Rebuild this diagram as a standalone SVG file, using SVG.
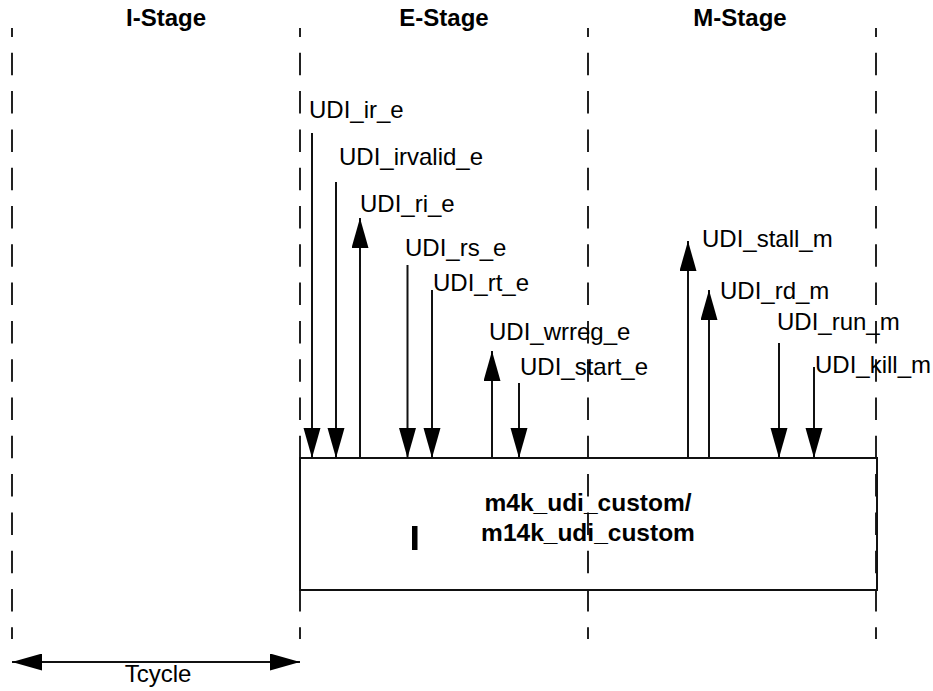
<svg xmlns="http://www.w3.org/2000/svg" width="933" height="691" viewBox="0 0 933 691">
<style>
.lbl{font-family:"Liberation Sans",Arial,sans-serif;font-size:24px;fill:#000}
.ttl{font-family:"Liberation Sans",Arial,sans-serif;font-size:24px;font-weight:bold;fill:#000}
.big{font-family:"Liberation Sans",Arial,sans-serif;font-size:24.5px;font-weight:bold;fill:#000}
.dash{stroke:#222;stroke-width:2;fill:none;stroke-dasharray:22.5 15.8;stroke-dashoffset:13.5}
.sig{stroke:#111;stroke-width:2;fill:none;marker-end:url(#ah)}
.box{stroke:#111;stroke-width:2;fill:none}
</style>
<defs>
<marker id="ah" markerUnits="userSpaceOnUse" markerWidth="30" markerHeight="18" refX="30" refY="8.5" orient="auto">
<path d="M0,0 L30,8.5 L0,17 z" fill="#000"/>
</marker>
<marker id="ahs" markerUnits="userSpaceOnUse" markerWidth="30" markerHeight="18" refX="0" refY="8.5" orient="auto">
<path d="M30,0 L0,8.5 L30,17 z" fill="#000"/>
</marker>
</defs>
<rect width="933" height="691" fill="#fff"/>
<g id="stage-lines">
<line class="dash" x1="12" y1="28" x2="12" y2="639"/>
<line class="dash" x1="300" y1="28" x2="300" y2="639"/>
<line class="dash" x1="588" y1="28" x2="588" y2="639"/>
<line class="dash" x1="876" y1="28" x2="876" y2="639"/>
</g>
<g id="i-stage"><text class="ttl" x="166" y="26" text-anchor="middle">I-Stage</text></g>
<g id="e-stage"><text class="ttl" x="444" y="26" text-anchor="middle">E-Stage</text></g>
<g id="m-stage"><text class="ttl" x="740" y="26" text-anchor="middle">M-Stage</text></g>
<g id="custom">
<rect class="box" x="300" y="458" width="577" height="132"/>
<text class="big" x="588" y="511" text-anchor="middle">m4k_udi_custom/</text>
<text class="big" x="588" y="541" text-anchor="middle">m14k_udi_custom</text>
<rect x="412" y="526" width="5.5" height="24" fill="#000"/>
</g>
<g id="sig-ir"><text class="lbl" x="309" y="118">UDI_ir_e</text></g>
<g id="sig-irvalid"><text class="lbl" x="339" y="165">UDI_irvalid_e</text></g>
<g id="sig-ri"><text class="lbl" x="360" y="212">UDI_ri_e</text></g>
<g id="sig-rs"><text class="lbl" x="405" y="256">UDI_rs_e</text></g>
<g id="sig-rt"><text class="lbl" x="433" y="291">UDI_rt_e</text></g>
<g id="sig-wrreg"><text class="lbl" x="489" y="340">UDI_wrreg_e</text></g>
<g id="sig-start"><text class="lbl" x="520" y="375">UDI_start_e</text></g>
<g id="sig-stall"><text class="lbl" x="702" y="247">UDI_stall_m</text></g>
<g id="sig-rd"><text class="lbl" x="720" y="299">UDI_rd_m</text></g>
<g id="sig-run"><text class="lbl" x="777" y="330">UDI_run_m</text></g>
<g id="sig-kill"><text class="lbl" x="815" y="373">UDI_kill_m</text></g>
<g id="tcycle"><text class="lbl" x="158" y="682" text-anchor="middle">Tcycle</text></g>
<g id="connectors">
<line class="sig" x1="312" y1="133" x2="312" y2="458"/>
<line class="sig" x1="336" y1="182" x2="336" y2="458"/>
<line class="sig" x1="360" y1="458" x2="360" y2="218"/>
<line class="sig" x1="407.5" y1="265" x2="407.5" y2="458"/>
<line class="sig" x1="432" y1="290" x2="432" y2="458"/>
<line class="sig" x1="492" y1="458" x2="492" y2="351"/>
<line class="sig" x1="519" y1="383" x2="519" y2="458"/>
<line class="sig" x1="688" y1="458" x2="688" y2="241"/>
<line class="sig" x1="709" y1="458" x2="709" y2="290"/>
<line class="sig" x1="779" y1="343" x2="779" y2="458"/>
<line class="sig" x1="814" y1="367" x2="814" y2="458"/>
<line x1="12" y1="662" x2="300" y2="662" stroke="#111" stroke-width="2" marker-start="url(#ahs)" marker-end="url(#ah)"/>
</g>
</svg>
